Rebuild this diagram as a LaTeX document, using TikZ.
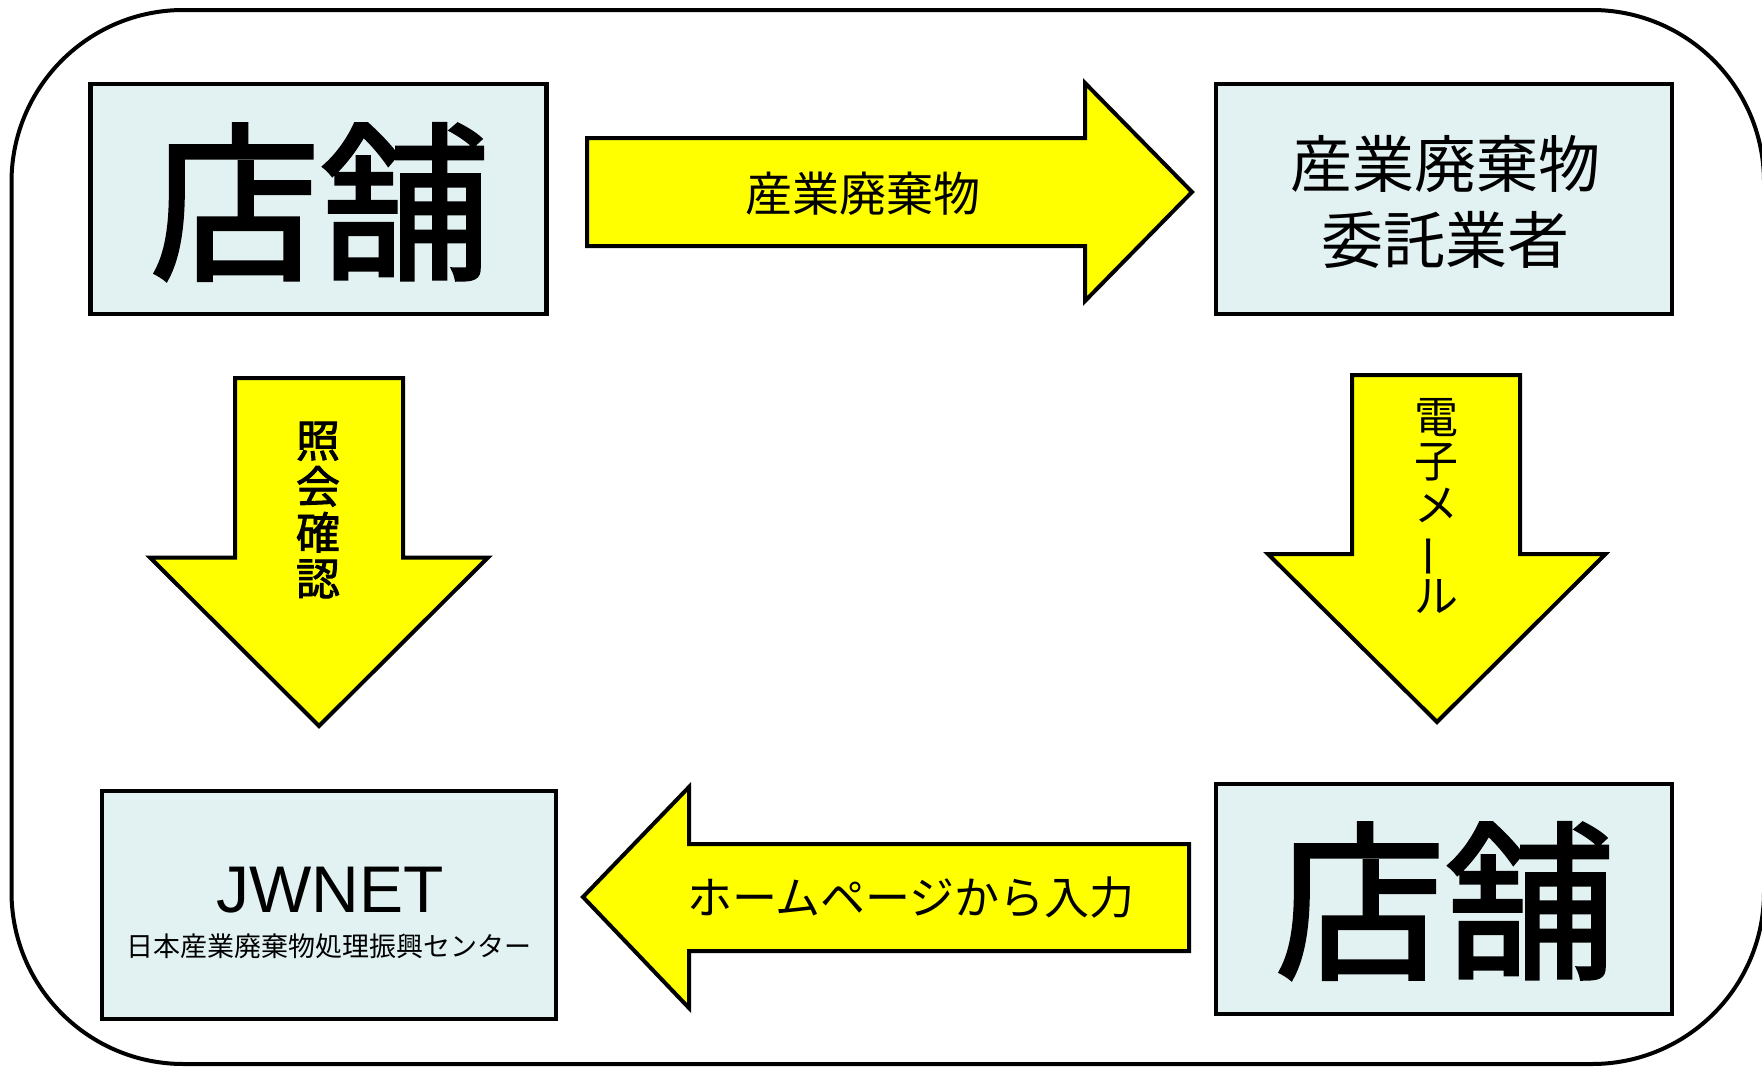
\documentclass[tikz,border=0pt]{standalone}
\usepackage{fontspec}
\setmainfont{Liberation Sans}
\newfontfamily\cjk{Noto Sans CJK JP}
\newfontfamily\cjkm{Noto Sans CJK JP}[FakeBold=2]
\definecolor{boxfill}{RGB}{226,242,242}
\definecolor{arrowfill}{RGB}{255,255,0}
\tikzset{
  box/.style={draw=black, line width=4.5pt, fill=boxfill, inner sep=0pt,
              minimum width=456pt, minimum height=230pt},
  blockarrow/.style={draw=black, line width=4pt, fill=arrowfill, line join=miter},
  frame/.style={draw=black, line width=4pt},
  lbl/.style={inner sep=0pt, font=\cjk\fontsize{45}{46}\selectfont},
  vlbl/.style={inner sep=0pt, align=center},
  bigtext/.style={inner sep=0pt, font=\cjkm\fontsize{170}{170}\selectfont}
}
\begin{document}
\begin{tikzpicture}[x=1pt,y=-1pt]
\useasboundingbox (0,0) rectangle (1762,1068);
% outer frame
\draw[frame] (11.5,182) arc[start angle=180,end angle=270,radius=172]
  -- (1592,10) arc[start angle=270,end angle=360,radius=172]
  -- (1764,892) arc[start angle=0,end angle=90,radius=172]
  -- (183.5,1064) arc[start angle=90,end angle=180,radius=172] -- cycle;

% boxes
\node[box] (shop1) at (318.6,199) {};
\node[box] (firm) at (1444,199) {};
\node[box, minimum width=454pt, minimum height=228pt] (jw) at (329,905) {};
\node[box] (shop2) at (1444,899) {};

% box texts
\node[bigtext] (shop1t) at (320,202) {店舗};
\node[inner sep=0pt, align=center, font=\cjk\fontsize{62}{76}\selectfont] (firmt) at (1445,202) {産業廃棄物\\委託業者};
\node[inner sep=0pt, font=\fontsize{66}{66}\selectfont] (jwt) at (330,890.5) {JWNET};
\node[inner sep=0pt, font=\cjk\fontsize{27}{27}\selectfont] (jwsub) at (329,946) {日本産業廃棄物処理振興センター};
\node[bigtext] (shop2t) at (1445,901) {店舗};

% top arrow: shop1 -> firm
\draw[blockarrow] (587,138) -- (1085,138) -- (1085,83) -- (1192,192)
  -- (1085,301) -- (1085,246) -- (587,246) -- cycle;
\node[lbl, font=\cjk\fontsize{47}{47}\selectfont] (a1) at (863,194) {産業廃棄物};

% left down arrow: shop1 -> jw
\draw[blockarrow] (235,378) -- (403,378) -- (403,557.5) -- (488,557.5)
  -- (319,726) -- (150,557.5) -- (235,557.5) -- cycle;
\node[vlbl, font=\cjkm\fontsize{44}{46}\selectfont] (a2) at (318,510) {照\\会\\確\\認};

% right down arrow: firm -> shop2
\draw[blockarrow] (1352,375) -- (1520,375) -- (1520,554) -- (1605.5,554)
  -- (1437,722) -- (1268,554) -- (1352,554) -- cycle;
\node[vlbl, font=\cjk\fontsize{44}{44}\selectfont] (a3) at (1436,506) {電\\子\\メ\\\rotatebox[origin=c]{90}{ー}\\ル};

% bottom left arrow: shop2 -> jw
\draw[blockarrow] (1189,844) -- (689,844) -- (689,787) -- (583,897)
  -- (689,1008) -- (689,951) -- (1189,951) -- cycle;
\node[lbl] (a4) at (911,898) {ホームページから入力};
\end{tikzpicture}
\end{document}
